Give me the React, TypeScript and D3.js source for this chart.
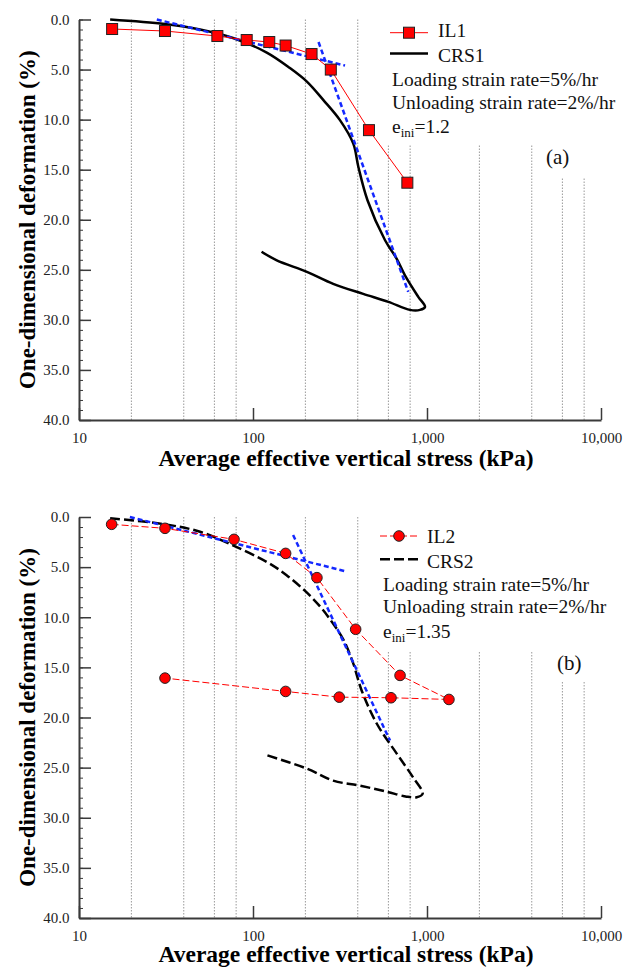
import React, { useEffect, useRef } from "react";
import * as d3 from "d3";

// ---- panel (a) ----
const IL1_STRESS = [15.5, 31.2, 62.4, 92, 124, 154, 217, 280, 464, 771];
const IL1_DEF = [0.95, 1.15, 1.65, 2.05, 2.25, 2.6, 3.45, 5.0, 11.05, 16.3];

const CRS1_STRESS = [15.1, 31.2, 49.6, 76.7, 120, 163, 204, 254, 316, 377, 403, 455, 574, 670, 747, 891, 974, 911, 798, 600, 430, 289, 204, 137, 112];
const CRS1_DEF = [0.0, 0.45, 1.0, 1.85, 3.3, 4.85, 6.2, 8.05, 10.05, 12.4, 14.7, 18.05, 22.05, 23.9, 25.55, 27.7, 28.7, 29.0, 29.0, 28.2, 27.4, 26.4, 25.2, 24.05, 23.2];

const FIT1_A_STRESS = [28, 338];
const FIT1_A_DEF = [0.0, 4.6];
const FIT1_B_STRESS = [238, 780];
const FIT1_B_DEF = [2.25, 27.2];

// ---- panel (b) ----
const IL2_STRESS = [15.4, 31.2, 77.8, 154, 233, 389, 700, 1337, 621, 313, 154, 31.2];
const IL2_DEF = [0.73, 1.13, 2.23, 3.63, 6.05, 11.2, 15.8, 18.2, 18.03, 17.97, 17.4, 16.07];

const CRS2_STRESS = [15.1, 31.2, 49.6, 76, 122, 156, 200, 245, 285, 330, 375, 421, 514, 670, 834, 944, 873, 764, 586, 412, 289, 204, 117];
const CRS2_DEF = [0.13, 0.73, 1.47, 2.8, 4.55, 5.8, 7.4, 9.0, 10.5, 12.2, 14.5, 17.3, 20.6, 23.6, 26.0, 27.6, 27.95, 27.9, 27.4, 26.8, 26.3, 25.1, 23.7];

const FIT2_A_STRESS = [19.6, 338];
const FIT2_A_DEF = [0.0, 5.4];
const FIT2_B_STRESS = [170, 613];
const FIT2_B_DEF = [1.8, 22.3];

// axes
const X_TICKS = [10, 100, 1000, 10000];
const X_GRID = [20, 40, 60, 80, 200, 400, 600, 800, 2000, 4000, 6000, 8000];
const Y_TICKS = [0, 5, 10, 15, 20, 25, 30, 35, 40];
const Y_MINOR = d3.range(0, 41, 1);

const X_TITLE = "Average effective vertical stress (kPa)";
const Y_TITLE = "One-dimensional deformation (%)";
const INFO_LINES = ["Loading strain rate=5%/hr", "Unloading strain rate=2%/hr"];

const FONT = "'Liberation Serif', 'Times New Roman', serif";
const RED = "#ff0000";
const BLUE = "#1428ff";

const zip = (xs: number[], ys: number[]) => xs.map((v, i) => [v, ys[i]] as [number, number]);

const panels = [
  {
    top: 19.5, bottom: 420, xTitleY: 466,
    il: zip(IL1_STRESS, IL1_DEF), ilName: "IL1", marker: "square", ilDash: null,
    crs: zip(CRS1_STRESS, CRS1_DEF), crsName: "CRS1", crsDash: null,
    fits: [zip(FIT1_A_STRESS, FIT1_A_DEF), zip(FIT1_B_STRESS, FIT1_B_DEF)],
    eini: "=1.2", tag: "(a)",
    box: { x: 370, w: 240, h: 125.5 }, tagBox: { x: 540, w: 70, h: 157.5 },
    leg: { x1: 390, x2: 428, tx: 438, ly: [32.7, 53.5], ty: [37, 62], ix: 392, iy: [86, 109, 133], tagX: 546, tagY: 164 },
  },
  {
    top: 517, bottom: 918, xTitleY: 962,
    il: zip(IL2_STRESS, IL2_DEF), ilName: "IL2", marker: "circle", ilDash: "7,3",
    crs: zip(CRS2_STRESS, CRS2_DEF), crsName: "CRS2", crsDash: "10,4",
    fits: [zip(FIT2_A_STRESS, FIT2_A_DEF), zip(FIT2_B_STRESS, FIT2_B_DEF)],
    eini: "=1.35", tag: "(b)",
    box: { x: 370, w: 240, h: 135 }, tagBox: { x: 545, w: 65, h: 165 },
    leg: { x1: 380, x2: 418, tx: 427, ly: [536, 559.3], ty: [543, 567.5], ix: 383, iy: [590.5, 613.3, 638.3], tagX: 557, tagY: 670 },
  },
];

function drawPanel(svg: any, p: any) {
  const x = d3.scaleLog().domain([10, 10000]).range([79, 601]);
  const y = d3.scaleLinear().domain([0, 40]).range([p.top, p.bottom]);
  const g = svg.append("g");

  // dotted vertical grid
  g.selectAll(".grid").data(X_GRID).join("line")
    .attr("x1", (d: number) => x(d)).attr("x2", (d: number) => x(d))
    .attr("y1", p.top).attr("y2", p.bottom)
    .attr("stroke", "#9a9a9a").attr("stroke-width", 1).attr("stroke-dasharray", "1.5,1.5");

  // legend backgrounds hide the grid
  g.append("rect").attr("x", p.box.x).attr("y", p.top - 2).attr("width", p.box.w).attr("height", p.box.h + 2).attr("fill", "white");
  g.append("rect").attr("x", p.tagBox.x).attr("y", p.top - 2).attr("width", p.tagBox.w).attr("height", p.tagBox.h + 2).attr("fill", "white");

  // axes
  const yMinor = g.append("g").attr("transform", "translate(79,0)")
    .call(d3.axisLeft(y).tickValues(Y_MINOR).tickSize(-4).tickFormat(() => ""));
  yMinor.select(".domain").remove();
  yMinor.selectAll("line").attr("stroke", "#3a3a3a");

  const yAx = g.append("g").attr("transform", "translate(79,0)")
    .call(d3.axisLeft(y).tickValues(Y_TICKS).tickSize(-12).tickSizeOuter(0).tickPadding(9.5).tickFormat(d3.format(".1f")));
  const xAx = g.append("g").attr("transform", `translate(0,${p.bottom})`)
    .call(d3.axisBottom(x).tickValues(X_TICKS).tickSize(-12).tickSizeOuter(0).tickPadding(12).tickFormat(d3.format(",")));
  [yAx, xAx].forEach((a) => {
    a.select(".domain").attr("stroke", "#3a3a3a").attr("stroke-width", 2);
    a.selectAll("line").attr("stroke", "#3a3a3a").attr("stroke-width", 1.5);
    a.selectAll("text").attr("font-family", FONT).attr("font-size", 15).attr("fill", "#222");
  });

  // titles
  g.append("text").attr("x", 346).attr("y", p.xTitleY).attr("text-anchor", "middle")
    .attr("font-family", FONT).attr("font-weight", "bold").attr("font-size", 23.5).text(X_TITLE);
  g.append("text").attr("transform", `translate(35,${(p.top + p.bottom) / 2}) rotate(-90)`).attr("text-anchor", "middle")
    .attr("font-family", FONT).attr("font-weight", "bold").attr("font-size", 23).text(Y_TITLE);

  const line = d3.line<[number, number]>().x((d) => x(d[0])).y((d) => y(d[1]));

  // CRS curve
  g.append("path").datum(p.crs).attr("d", line.curve(d3.curveCatmullRom.alpha(0.5)))
    .attr("fill", "none").attr("stroke", "black").attr("stroke-width", 2.5)
    .attr("stroke-dasharray", p.crsDash);
  line.curve(d3.curveLinear);

  // blue dashed tangents
  p.fits.forEach((f: [number, number][]) => {
    g.append("path").datum(f).attr("d", line).attr("fill", "none")
      .attr("stroke", BLUE).attr("stroke-width", 2.5).attr("stroke-dasharray", "5,3");
  });

  // IL line + markers
  g.append("path").datum(p.il).attr("d", line).attr("fill", "none")
    .attr("stroke", RED).attr("stroke-width", 1).attr("stroke-dasharray", p.ilDash);

  const drawMarker = (sel: any, cx: number, cy: number) => {
    if (p.marker === "square") {
      sel.append("rect").attr("x", cx - 5.5).attr("y", cy - 5.5).attr("width", 11).attr("height", 11)
        .attr("fill", RED).attr("stroke", "#222").attr("stroke-width", 1);
    } else {
      sel.append("circle").attr("cx", cx).attr("cy", cy).attr("r", 5.3)
        .attr("fill", RED).attr("stroke", "#222").attr("stroke-width", 1);
    }
  };
  p.il.forEach((d: [number, number]) => drawMarker(g, x(d[0]), y(d[1])));

  // legend
  const L = p.leg;
  g.append("line").attr("x1", L.x1).attr("x2", L.x2).attr("y1", L.ly[0]).attr("y2", L.ly[0])
    .attr("stroke", RED).attr("stroke-width", 1).attr("stroke-dasharray", p.ilDash);
  drawMarker(g, (L.x1 + L.x2) / 2, L.ly[0]);
  g.append("line").attr("x1", L.x1).attr("x2", L.x2).attr("y1", L.ly[1]).attr("y2", L.ly[1])
    .attr("stroke", "black").attr("stroke-width", 2.5).attr("stroke-dasharray", p.crsDash);

  const txt = (tx: number, ty: number, s: string, fs = 19.5) =>
    g.append("text").attr("x", tx).attr("y", ty).attr("font-family", FONT).attr("font-size", fs).attr("fill", "#111").text(s);
  txt(L.tx, L.ty[0], p.ilName);
  txt(L.tx, L.ty[1], p.crsName);
  txt(L.ix, L.iy[0], INFO_LINES[0]);
  txt(L.ix, L.iy[1], INFO_LINES[1]);
  const e = g.append("text").attr("x", L.ix).attr("y", L.iy[2]).attr("font-family", FONT).attr("font-size", 19.5).attr("fill", "#111");
  e.append("tspan").text("e");
  e.append("tspan").attr("dy", 4).attr("font-size", 13).text("ini");
  e.append("tspan").attr("dy", -4).text(p.eini);
  txt(L.tagX, L.tagY, p.tag, 21);
}

export default function App() {
  const ref = useRef<SVGSVGElement>(null);
  useEffect(() => {
    const svg = d3.select(ref.current);
    svg.selectAll("*").remove();
    panels.forEach((p) => drawPanel(svg, p));
  }, []);
  return (
    <svg ref={ref} width={636} height={967}
      style={{ position: "absolute", left: 0, top: 0, display: "block", background: "white" }} />
  );
}
